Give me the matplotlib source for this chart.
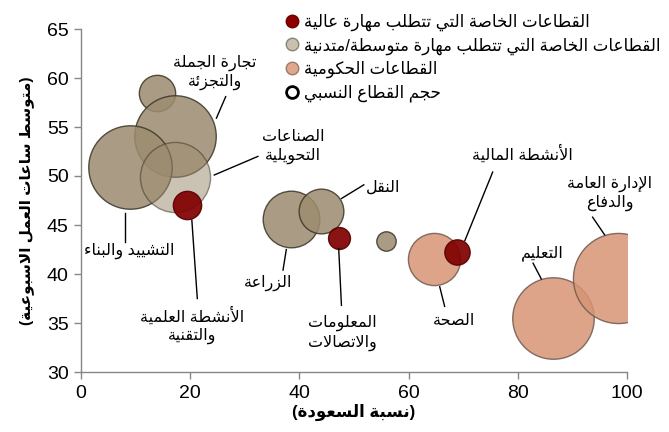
#!/usr/bin/env python3

# ======================= Libraries =======================
import matplotlib
matplotlib.use("Agg")
import matplotlib.pyplot as plt
from matplotlib.lines import Line2D

# ======================= Data =======================

# Bubble values: Saudization %, weekly hours, relative sector size
sectorNames = ["", "تجارة الجملة\nوالتجزئة", "التشييد والبناء", "الصناعات\nالتحويلية",
               "الأنشطة العلمية\nوالتقنية", "الزراعة", "النقل", "المعلومات\nوالاتصالات", "",
               "الصحة", "الأنشطة المالية", "التعليم", "الإدارة العامة\nوالدفاع"]
saudization = [13.9, 17.2, 9.0, 17.2, 19.5, 38.4, 43.9, 47.2, 55.8, 64.6, 68.9, 86.4, 98.3]
weeklyHours = [58.5, 54.1, 50.9, 49.9, 47.0, 45.6, 46.4, 43.7, 43.4, 41.5, 42.2, 35.5, 39.6]
sectorSize = [3.3, 16.6, 17.4, 12.3, 2.0, 8.0, 5.0, 1.2, 0.94, 6.8, 1.6, 16.6, 20.3]
sectorGroup = ["mid", "mid", "mid", "midLight", "high", "mid", "mid", "high", "mid",
               "gov", "high", "gov", "gov"]

legendLabels = ["القطاعات الخاصة التي تتطلب مهارة عالية",
                "القطاعات الخاصة التي تتطلب مهارة متوسطة/متدنية",
                "القطاعات الحكومية",
                "حجم القطاع النسبي"]
xTicks = [0, 20, 40, 60, 80, 100]
yTicks = [30, 35, 40, 45, 50, 55, 60, 65]
xTitle = "(نسبة السعودة)"
yTitle = "(متوسط ساعات العمل الاسبوعية)"

# ======================= Arabic Shaping (matplotlib has no RTL layout) =======================

dualBase = {"ئ": 0xFE89, "ب": 0xFE8F, "ت": 0xFE95, "ث": 0xFE99, "ج": 0xFE9D, "ح": 0xFEA1,
            "خ": 0xFEA5, "س": 0xFEB1, "ش": 0xFEB5, "ص": 0xFEB9, "ض": 0xFEBD, "ط": 0xFEC1,
            "ظ": 0xFEC5, "ع": 0xFEC9, "غ": 0xFECD, "ف": 0xFED1, "ق": 0xFED5, "ك": 0xFED9,
            "ل": 0xFEDD, "م": 0xFEE1, "ن": 0xFEE5, "ه": 0xFEE9, "ي": 0xFEF1}
rightBase = {"آ": 0xFE81, "أ": 0xFE83, "ؤ": 0xFE85, "إ": 0xFE87, "ا": 0xFE8D, "ة": 0xFE93,
             "د": 0xFEA9, "ذ": 0xFEAB, "ر": 0xFEAD, "ز": 0xFEAF, "و": 0xFEED, "ى": 0xFEEF}
lamAlef = {"آ": 0xFEF5, "أ": 0xFEF7, "إ": 0xFEF9, "ا": 0xFEFB}


def shapeLine(text):
    tokens = []
    i = 0
    while i < len(text):
        if text[i] == "ل" and i + 1 < len(text) and text[i + 1] in lamAlef:
            tokens.append(("LA", text[i + 1]))
            i += 2
        else:
            tokens.append(("C", text[i]))
            i += 1

    def joinsNext(tok):
        return tok[0] == "C" and tok[1] in dualBase

    def joinsPrev(tok):
        return tok[0] == "LA" or tok[1] in dualBase or tok[1] in rightBase

    out = []
    for k, tok in enumerate(tokens):
        prev = tokens[k - 1] if k > 0 else None
        nxt = tokens[k + 1] if k + 1 < len(tokens) else None
        linkPrev = prev is not None and joinsNext(prev) and joinsPrev(tok)
        linkNext = nxt is not None and joinsNext(tok) and joinsPrev(nxt)
        if tok[0] == "LA":
            out.append(chr(lamAlef[tok[1]] + (1 if linkPrev else 0)))
        elif tok[1] in dualBase:
            step = 3 if (linkPrev and linkNext) else 1 if linkPrev else 2 if linkNext else 0
            out.append(chr(dualBase[tok[1]] + step))
        elif tok[1] in rightBase:
            out.append(chr(rightBase[tok[1]] + (1 if linkPrev else 0)))
        elif tok[1] == "ء":
            out.append("\uFE80")
        else:
            out.append(tok[1])
    return "".join(reversed(out)).translate(str.maketrans("()", ")("))


def ar(text):
    return "\n".join(shapeLine(line) for line in text.split("\n"))


# ======================= Styles =======================

plt.rcParams["font.family"] = ["Liberation Sans", "DejaVu Sans"]

groupStyle = {
    "high": dict(color="#800000", alpha=0.92, edge="#5a0000"),
    "mid": dict(color="#9c8c70", alpha=0.86, edge="#3c3628"),
    "midLight": dict(color="#9c8c70", alpha=0.53, edge="#3c3628"),
    "gov": dict(color="#d79475", alpha=0.85, edge="#6e5a50"),
}

# Label layout: text position, leader start, leader end (data units)
labelLayout = {
    1: ((24.5, 60.6), (24.8, 55.9), (26.5, 58.1)),
    2: ((8.8, 42.4), (8.0, 46.2), (8.0, 43.3)),
    3: ((38.8, 53.0), (24.4, 50.1), (32.4, 52.0)),
    4: ((20.3, 34.8), (20.3, 45.5), (21.3, 37.5)),
    5: ((34.2, 39.1), (37.6, 42.5), (37.0, 40.4)),
    6: ((55.4, 48.9), (47.7, 47.7), (51.8, 49.1)),
    7: ((47.8, 34.0), (47.2, 42.6), (47.7, 36.8)),
    9: ((68.4, 35.3), (65.7, 38.7), (66.6, 36.7)),
    10: ((80.9, 52.3), (70.3, 43.4), (75.4, 50.4)),
    11: ((84.5, 42.1), (84.3, 39.5), (82.8, 41.1)),
    12: ((96.8, 48.2), (93.7, 45.8), (95.9, 44.0)),
}

# ======================= Figure =======================

fig = plt.figure(figsize=(6.69, 4.32), dpi=100)
ax = fig.add_axes([81 / 669, 60 / 432, 546 / 669, 343 / 432])

# Bubbles (area proportional to sector size)
for i in range(len(saudization)):
    st = groupStyle[sectorGroup[i]]
    ax.scatter(saudization[i], weeklyHours[i], s=sectorSize[i] * 207.4,
               facecolor=st["color"], alpha=st["alpha"], edgecolor=st["edge"],
               linewidth=1.0, zorder=2 + i * 0.01)

# Labels and leader lines
for i, (txt, p0, p1) in labelLayout.items():
    ax.plot([p0[0], p1[0]], [p0[1], p1[1]], color="black", linewidth=1.0, zorder=5,
            clip_on=False)
    ax.text(txt[0], txt[1], ar(sectorNames[i]), ha="center", va="center", fontsize=11.5,
            multialignment="center", linespacing=1.25, zorder=6)

# Axes
ax.set_xlim(0, 100)
ax.set_ylim(30, 65)
ax.set_xticks(xTicks)
ax.set_yticks(yTicks)
ax.tick_params(axis="both", labelsize=14, color="#868686", length=5, width=1.0, pad=4)
for side in ["top", "right"]:
    ax.spines[side].set_visible(False)
for side in ["left", "bottom"]:
    ax.spines[side].set_color("#868686")
    ax.spines[side].set_linewidth(1.0)
ax.set_xlabel(ar(xTitle), fontsize=12, fontweight="bold", labelpad=2)
ax.set_ylabel(ar(yTitle), fontsize=11, fontweight="bold", labelpad=9)

# Legend
handles = [
    Line2D([], [], linestyle="none", marker="o", markersize=9, markerfacecolor="#8b0000",
           markeredgecolor="#6a0000"),
    Line2D([], [], linestyle="none", marker="o", markersize=9, markerfacecolor="#c9c0b0",
           markeredgecolor="#8a8478"),
    Line2D([], [], linestyle="none", marker="o", markersize=9, markerfacecolor="#e2a68c",
           markeredgecolor="#9a7a6a"),
    Line2D([], [], linestyle="none", marker="o", markersize=8.5, markerfacecolor="white",
           markeredgecolor="black", markeredgewidth=2.0),
]
fig.legend(handles, [ar(t) for t in legendLabels], loc="upper left",
           bbox_to_anchor=(279 / 669, 1 - 7 / 432), frameon=False, fontsize=12,
           handlelength=0.8, handletextpad=0.3, labelspacing=0.38, borderaxespad=0)

fig.savefig("out.png", dpi=100)
